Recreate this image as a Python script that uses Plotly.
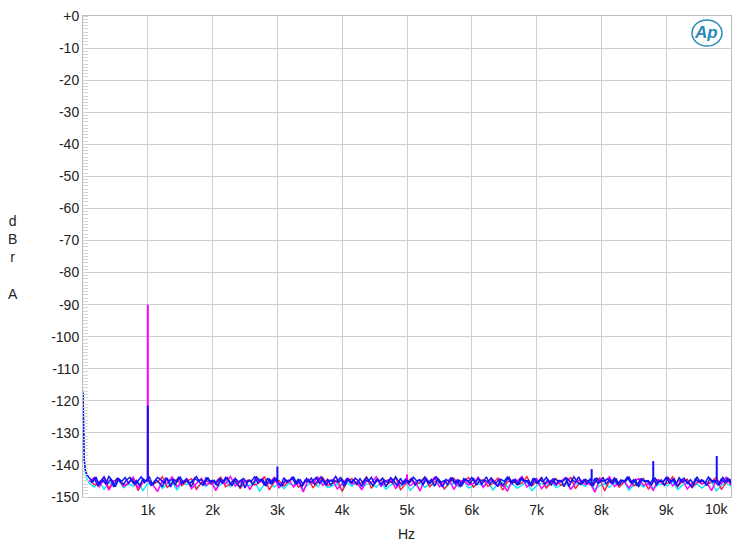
import plotly.graph_objects as go

# ---------------- data ----------------
y_tick_vals = [0, -10, -20, -30, -40, -50, -60, -70, -80, -90, -100, -110, -120, -130, -140, -150]
y_tick_text = ["+0", "-10", "-20", "-30", "-40", "-50", "-60", "-70", "-80", "-90",
               "-100", "-110", "-120", "-130", "-140", "-150"]
x_tick_vals = [1000, 2000, 3000, 4000, 5000, 6000, 7000, 8000, 9000, 10000]
x_tick_text = ["1k", "2k", "3k", "4k", "5k", "6k", "7k", "8k", "9k", "10k"]

# low-frequency rise
lf_freq = [0, 5, 10, 20, 35, 60, 100]
lf_blue = [-117.5, -126.0, -132.5, -138.5, -141.5, -143.0, -144.0]
lf_cyan = [-116.5, -125.0, -132.0, -138.5, -142.0, -144.5, -146.0]

# noise floor, blue channel A: 50 Hz bins starting at 100 Hz
blue_start, blue_step = 100, 50
blue_noise = [
    -144.1, -145.3, -143.8, -146.2, -144.7, -145.9, -143.6, -144.9, -146.8, -144.3, -145.1, -143.9, -145.7, -144.4, -146.1, -144.8, -143.7, -145.5, -144.2, -146.4,
    -145.0, -143.9, -144.6, -145.8, -144.1, -146.9, -144.5, -145.2, -143.8, -145.6, -144.3, -145.9, -144.7, -143.6, -145.4, -146.3, -144.0, -145.1, -144.8, -146.0,
    -144.4, -145.7, -143.9, -144.9, -146.5, -144.2, -145.3, -144.6, -147.2, -144.8, -145.0, -143.7, -145.6, -144.5, -146.2, -144.1, -145.8, -144.3, -145.2, -146.6,
    -144.0, -145.4, -144.7, -143.8, -145.9, -144.6, -146.1, -144.2, -145.5, -144.9, -143.9, -145.7, -144.4, -146.4, -144.8, -145.1, -143.6, -145.3, -144.5, -146.0,
    -144.3, -145.6, -144.1, -145.0, -146.7, -144.6, -145.2, -143.9, -145.8, -144.4, -146.2, -144.7, -145.5, -144.0, -145.1, -146.5, -144.2, -145.9, -144.8, -145.3,
    -143.8, -145.0, -144.6, -146.1, -144.3, -145.7, -144.9, -143.7, -145.4, -146.8, -144.5, -145.2, -144.1, -145.9, -144.7, -146.3, -144.4, -145.1, -143.9, -145.6,
    -144.2, -146.0, -144.8, -145.3, -144.0, -145.8, -146.6, -144.5, -145.1, -143.8, -145.5, -144.6, -146.2, -144.3, -145.0, -144.9, -146.4, -144.1, -145.7, -144.7,
    -145.2, -143.9, -145.6, -144.4, -146.1, -144.8, -145.3, -144.0, -146.7, -144.6, -145.4, -143.7, -145.9, -144.5, -145.1, -146.3, -144.2, -145.8, -144.9, -145.0,
    -144.3, -145.7, -144.1, -146.0, -144.7, -145.2, -143.8, -145.5, -144.6, -146.5, -144.4, -145.0, -144.9, -145.9, -144.2, -146.2, -144.8, -145.3, -143.9, -145.6,
    -144.5, -146.1, -144.0, -145.4, -144.7, -145.8, -146.9, -144.3, -145.2, -144.6, -145.7, -143.8, -145.1, -144.9, -146.3, -144.4, -145.5, -144.1, -145.9,
]
# noise floor, blue channel B: 50 Hz bins starting at 125 Hz
blue2_start, blue2_step = 125, 50
blue2_noise = [
    -145.6, -144.2, -146.4, -144.9, -143.7, -145.8, -144.5, -146.9, -144.1, -145.3, -146.0, -144.6, -143.9, -145.7, -144.8, -146.6, -144.3, -145.1, -143.8, -146.2,
    -144.7, -145.5, -146.8, -144.0, -145.2, -144.5, -146.3, -143.7, -145.9, -144.9, -145.4, -146.7, -144.2, -145.0, -144.6, -146.1, -143.9, -145.6, -144.8, -146.5,
    -144.4, -145.3, -143.8, -146.0, -144.7, -145.8, -147.0, -144.1, -145.5, -144.9, -146.2, -143.6, -145.1, -144.5, -146.6, -144.3, -145.7, -144.0, -145.9, -146.4,
    -144.6, -145.2, -143.9, -145.8, -144.4, -146.9, -144.8, -145.3, -144.1, -146.1, -145.0, -143.7, -145.6, -144.5, -146.3, -144.9, -145.4, -143.8, -146.7, -144.2,
    -145.5, -144.7, -146.0, -144.3, -145.9, -143.9, -145.2, -146.5, -144.6, -145.0, -144.1, -146.8, -144.9, -145.6, -143.7, -145.3, -146.2, -144.4, -145.8, -144.0,
    -146.4, -144.8, -145.1, -143.8, -145.7, -144.5, -146.6, -144.2, -145.4, -144.9, -146.1, -143.9, -145.5, -144.7, -146.9, -144.3, -145.0, -145.8, -144.1, -146.3,
    -144.6, -145.2, -143.7, -146.0, -144.9, -145.6, -144.4, -146.7, -145.1, -143.9, -145.8, -144.5, -146.2, -144.0, -145.3, -144.8, -146.5, -144.2, -145.7, -143.8,
    -145.9, -144.6, -146.4, -144.3, -145.0, -144.9, -146.8, -144.1, -145.5, -143.7, -145.2, -146.1, -144.7, -145.8, -144.4, -146.6, -144.0, -145.4, -143.9, -146.0,
    -144.5, -145.7, -144.2, -146.3, -144.8, -145.1, -143.8, -145.9, -144.6, -146.9, -144.3, -145.3, -144.9, -146.2, -144.0, -145.6, -144.7, -146.5, -143.9, -145.2,
    -144.4, -146.7, -145.0, -144.1, -145.8, -144.6, -146.1, -143.7, -145.4, -144.9, -146.4, -144.2, -145.5, -144.8, -146.0, -143.9, -145.3, -144.5, -146.3,
]

# other channels: 75 Hz bins starting at 100 Hz
other_start, other_step = 100, 75
cyan_noise = [
    -145.8, -146.9, -145.1, -147.6, -145.5, -146.3, -144.8, -147.1, -145.9, -146.6, -145.2, -148.0, -145.7, -146.4, -144.9, -147.3, -146.0, -145.4, -147.8, -145.6,
    -146.2, -145.0, -147.0, -145.8, -146.7, -145.3, -147.5, -146.1, -144.7, -146.8, -145.6, -147.2, -145.9, -146.5, -145.1, -148.2, -146.0, -145.4, -146.9, -145.7,
    -147.4, -145.8, -146.3, -145.2, -147.7, -146.1, -145.5, -146.8, -145.0, -147.1, -146.4, -145.9, -148.1, -145.6, -146.6, -145.3, -147.3, -146.0, -145.7, -146.9,
    -145.4, -147.6, -146.2, -145.8, -146.7, -145.1, -147.9, -146.3, -145.6, -147.0, -145.9, -146.5, -145.2, -147.4, -146.1, -145.7, -146.8, -145.0, -147.2, -146.4,
    -145.8, -146.6, -145.3, -147.8, -146.0, -145.5, -146.9, -145.9, -147.3, -146.2, -145.4, -148.0, -146.5, -145.7, -146.8, -145.1, -147.1, -146.3, -145.6, -147.5,
    -146.0, -145.8, -146.7, -145.2, -147.6, -146.4, -145.9, -147.0, -145.5, -146.6, -145.3, -147.9, -146.1, -145.7, -146.9, -145.4, -147.3, -146.2, -145.8, -146.5,
    -145.1, -147.7, -146.3, -145.6, -146.8, -145.9, -147.2, -146.0, -145.4, -148.1, -146.4, -145.7, -146.6,
]
red_noise = [
    -144.8, -146.2, -145.5, -143.9, -147.3, -145.0, -144.6, -146.7, -145.8, -144.2, -148.0, -145.4, -144.9, -146.0, -145.3, -143.7, -147.0, -145.7, -144.5, -146.5,
    -145.1, -144.3, -147.6, -145.6, -144.8, -146.1, -145.2, -143.8, -146.8, -145.9, -144.4, -147.4, -145.0, -144.7, -146.3, -145.5, -143.6, -147.8, -145.3, -144.9,
    -146.6, -145.2, -144.1, -146.9, -145.7, -144.5, -147.1, -145.4, -143.9, -146.4, -145.8, -144.6, -148.2, -145.0, -144.3, -146.2, -145.6, -143.7, -147.3, -145.1,
    -144.8, -146.5, -145.3, -144.0, -147.7, -145.9, -144.4, -146.0, -145.5, -143.8, -146.8, -145.2, -144.7, -147.5, -145.6, -144.2, -146.3, -145.0, -143.9, -147.0,
    -145.4, -144.6, -146.7, -145.8, -144.1, -147.9, -145.3, -144.9, -146.1, -145.7, -143.6, -146.6, -145.1, -144.5, -147.2, -145.5, -144.3, -146.4, -145.9, -143.8,
    -147.4, -145.2, -144.8, -146.2, -145.6, -144.0, -148.1, -145.0, -144.7, -146.9, -145.4, -143.9, -146.5, -145.8, -144.2, -147.6, -145.3, -144.6, -146.0, -145.7,
    -143.7, -146.8, -145.1, -144.4, -147.1, -145.5, -144.9, -146.3, -145.2, -143.8, -147.7, -145.6, -144.5,
]
magenta_noise = [
    -145.2, -143.9, -146.8, -144.6, -147.9, -145.0, -144.3, -146.5, -145.7, -143.8, -147.2, -145.4, -144.7, -146.1, -148.3, -144.9, -145.6, -143.7, -146.9, -145.3,
    -144.5, -147.4, -145.8, -144.2, -146.3, -145.1, -148.0, -144.8, -145.9, -143.6, -146.6, -145.4, -144.9, -147.7, -145.0, -144.4, -146.2, -145.7, -143.9, -147.1,
    -145.6, -144.7, -146.9, -145.2, -148.4, -144.5, -145.8, -143.8, -146.4, -145.1, -144.6, -147.5, -145.9, -144.2, -146.0, -145.3, -147.8, -144.9, -145.5, -143.7,
    -146.7, -145.0, -144.4, -147.3, -145.6, -144.8, -146.5, -145.2, -148.1, -144.3, -145.7, -143.9, -146.8, -145.4, -144.6, -147.6, -145.1, -144.9, -146.2, -145.8,
    -143.8, -147.0, -145.3, -144.5, -146.6, -145.9, -148.2, -144.7, -145.0, -143.6, -146.9, -145.5, -144.2, -147.4, -145.8, -144.8, -146.3, -145.1, -143.9, -147.7,
    -145.4, -144.6, -146.1, -145.7, -148.5, -144.4, -145.2, -143.7, -146.7, -145.6, -144.9, -147.2, -145.0, -144.3, -146.4, -145.9, -147.9, -144.7, -145.3, -143.8,
    -146.5, -145.1, -144.5, -147.5, -145.7, -144.8, -146.0, -145.4, -148.0, -144.6, -145.9, -143.9, -146.3,
]

# discrete spurs / test tone (frequency in Hz, peak level in dBr)
magenta_spur_freq = [1000, 5000]
magenta_spur_db = [-90.0, -143.0]
blue_spur_freq = [1000, 3000, 7850, 8800, 9780]
blue_spur_db = [-121.5, -140.5, -141.3, -138.8, -137.2]
spur_base_db = -145.0

# ---------------- figure ----------------
fig = go.Figure()

def noise_trace(values, start, step, color, width=1.3, prefix_f=None, prefix_db=None):
    xs = [start + i * step for i in range(len(values))]
    ys = list(values)
    if prefix_f is not None:
        xs = list(prefix_f[:-1]) + xs
        ys = list(prefix_db[:-1]) + ys
    return go.Scatter(x=xs, y=ys, mode="lines", line=dict(color=color, width=width),
                      hoverinfo="skip", showlegend=False)

def spur_trace(freqs, dbs, color):
    xs, ys = [], []
    for f, d in zip(freqs, dbs):
        xs += [f, f, None]
        ys += [spur_base_db, d, None]
    return go.Scatter(x=xs, y=ys, mode="lines", line=dict(color=color, width=2),
                      hoverinfo="skip", showlegend=False)

fig.add_trace(noise_trace(cyan_noise, other_start, other_step, "#00e8ff", 1.4, lf_freq, lf_cyan))
fig.add_trace(noise_trace(red_noise, other_start, other_step, "#ff1a40", 1.4))
fig.add_trace(noise_trace(magenta_noise, other_start, other_step, "#ff00ff", 1.5))
fig.add_trace(spur_trace(magenta_spur_freq, magenta_spur_db, "#ff00ff"))
fig.add_trace(noise_trace(blue2_noise, blue2_start, blue2_step, "#1a1ad8", 1.5))
fig.add_trace(noise_trace(blue_noise, blue_start, blue_step, "#1010ff", 1.5, lf_freq, lf_blue))
fig.add_trace(spur_trace(blue_spur_freq, blue_spur_db, "#1010ff"))

font_family = "Liberation Sans, Arial, sans-serif"
tick_font = dict(family=font_family, size=14, color="#222222")

L, R, T, B = 83, 2, 16, 45
PW, PH = 733 - L - R, 542 - T - B

fig.update_layout(
    width=733, height=542,
    margin=dict(l=L, r=R, t=T, b=B),
    paper_bgcolor="white", plot_bgcolor="white",
    font=dict(family=font_family, size=14, color="#222222"),
    xaxis=dict(range=[0, 10000], tickvals=x_tick_vals[:-1], ticktext=x_tick_text[:-1],
               showgrid=True, gridcolor="#cfcfcf", gridwidth=1, zeroline=False,
               showline=True, linecolor="#bdbdbd", mirror=True, ticks="",
               tickfont=tick_font, ticklabelstandoff=0),
    yaxis=dict(range=[-150, 0], tickvals=y_tick_vals, ticktext=y_tick_text,
               showgrid=True, gridcolor="#cfcfcf", gridwidth=1, zeroline=False,
               showline=True, linecolor="#bdbdbd", mirror=True, ticks="",
               tickfont=tick_font,
               minor=dict(dtick=1, ticks="inside", ticklen=5, tickcolor="#d5d5d5",
                          showgrid=False)),
)

# last x tick label kept inside the page
fig.add_annotation(x=x_tick_vals[-1], y=0, xref="x", yref="paper", text=x_tick_text[-1],
                   showarrow=False, xanchor="right", yanchor="top", yshift=-2,
                   font=tick_font)

# axis titles
fig.add_annotation(x=(406 - L) / PW, y=0, xref="paper", yref="paper", text="Hz",
                   showarrow=False, xanchor="center", yanchor="top", yshift=-27,
                   font=tick_font)
fig.add_annotation(x=(13 - L) / PW, y=1 - (257 - T) / PH, xref="paper", yref="paper",
                   text="d<br>B<br>r<br><br>A", showarrow=False, xanchor="center",
                   yanchor="middle", font=dict(family=font_family, size=14, color="#222222"),
                   align="center")

# Ap logo
fig.add_shape(type="circle", xref="paper", yref="paper",
              x0=(692 - L) / PW, x1=(722 - L) / PW,
              y0=1 - (46 - T) / PH, y1=1 - (20 - T) / PH,
              line=dict(color="#2a8ab8", width=1.5))
fig.add_annotation(x=(706 - L) / PW, y=1 - (33 - T) / PH, xref="paper", yref="paper",
                   text="<b><i>Ap</i></b>", showarrow=False, xanchor="center", yanchor="middle",
                   font=dict(family=font_family, size=17, color="#2a8ab8"))

fig.write_html("out.html")
